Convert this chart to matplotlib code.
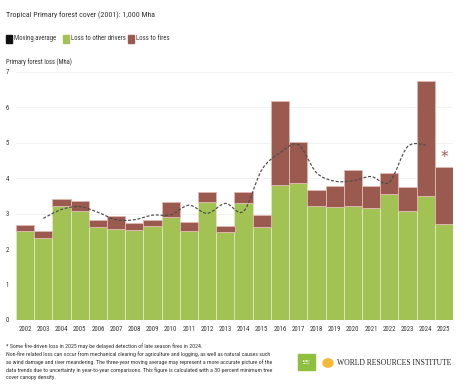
import numpy as np
import matplotlib
matplotlib.use("Agg")
import matplotlib.pyplot as plt
from matplotlib.path import Path
from matplotlib.patches import PathPatch, Rectangle, Circle

# ---------------------------------------------------------------------------
# Data (Mha)
# ---------------------------------------------------------------------------
years = list(range(2002, 2026))
other_drivers = [2.52, 2.31, 3.23, 3.08, 2.63, 2.58, 2.54, 2.64, 2.91, 2.52, 3.33, 2.48,
                 3.31, 2.63, 3.80, 3.87, 3.23, 3.20, 3.23, 3.15, 3.55, 3.07, 3.51, 2.70]
fires = [0.16, 0.19, 0.19, 0.27, 0.20, 0.35, 0.20, 0.17, 0.42, 0.25, 0.29, 0.17,
         0.30, 0.32, 2.37, 1.16, 0.43, 0.58, 1.00, 0.63, 0.59, 0.69, 3.25, 1.61]
ma_years = list(range(2003, 2025))
moving_avg = [2.87, 3.12, 3.20, 3.04, 2.83, 2.83, 2.96, 2.97, 3.24, 3.01, 3.29, 3.07,
              4.24, 4.72, 4.95, 4.16, 3.92, 3.93, 4.05, 3.89, 4.89, 4.94]

GREEN = "#a2c254"
BROWN = "#9a5a4f"
TXT = "#333333"
FONT = ["Roboto Condensed", "Liberation Sans Narrow", "Roboto", "DejaVu Sans"]
plt.rcParams["font.family"] = FONT

fig = plt.figure(figsize=(4.68, 3.9), dpi=100)
ax = fig.add_axes([16 / 468, 1 - 320 / 390, 437 / 468, 248 / 390])

x = np.arange(len(years))
ax.bar(x, other_drivers, width=1.0, color=GREEN, edgecolor="#dfe9c6", linewidth=0.6, zorder=2)
ax.bar(x, fires, bottom=other_drivers, width=1.0, color=BROWN, edgecolor="#e2b9b1",
       linewidth=0.6, zorder=2)

# smooth dashed moving average (Catmull-Rom drawn as cubic Bezier path)
mx = np.array([years.index(y) for y in ma_years], dtype=float)
my = np.array(moving_avg)
pts = np.column_stack([mx, my])
verts = [pts[0]]
codes = [Path.MOVETO]
for i in range(len(pts) - 1):
    p0 = pts[i - 1] if i > 0 else pts[i]
    p1, p2 = pts[i], pts[i + 1]
    p3 = pts[i + 2] if i + 2 < len(pts) else pts[i + 1]
    verts += [p1 + (p2 - p0) / 6, p2 - (p3 - p1) / 6, p2]
    codes += [Path.CURVE4] * 3
ax.add_patch(PathPatch(Path(verts, codes), fill=False, edgecolor="#4a4a4a", lw=0.85,
                       linestyle=(0, (2.5, 1.5)), zorder=3))

ax.text(x[-1], 4.6, "*", color=BROWN, fontsize=11, ha="center", va="center",
        family="DejaVu Sans")

ax.set_xlim(-0.5, len(years) - 0.5)
ax.set_ylim(0, 7)
ax.set_yticks(range(8))
ax.set_xticks(x)
ax.set_xticklabels([str(y) for y in years])
ax.tick_params(length=0, labelsize=4.9, colors=TXT)
ax.tick_params(axis="y", pad=5)
ax.tick_params(axis="x", pad=4)
ax.grid(axis="y", color="#f0f0f0", lw=0.6, zorder=0)
ax.set_axisbelow(True)
for s in ax.spines.values():
    s.set_visible(False)

# header
fig.text(6 / 468, 1 - 15 / 390, "Tropical Primary forest cover (2001): 1,000 Mha",
         fontsize=5.7, color=TXT, va="center")
legend_items = [(6, "#111111", "Moving average"), (63, GREEN, "Loss to other drivers"),
                (128, BROWN, "Loss to fires")]
for px, col, lab in legend_items:
    fig.patches.append(Rectangle((px / 468, 1 - 42.5 / 390), 6 / 468, 7 / 390,
                                 transform=fig.transFigure, color=col))
    fig.text((px + 8) / 468, 1 - 39 / 390, lab, fontsize=4.9, color=TXT, va="center")
fig.text(6 / 468, 1 - 62 / 390, "Primary forest loss (Mha)", fontsize=4.8, color=TXT,
         va="center")

# footnotes
notes = [
    "* Some fire-driven loss in 2025 may be delayed detection of late season fires in 2024.",
    "Non-fire related loss can occur from mechanical clearing for agriculture and logging, as well as natural causes such",
    "as wind damage and river meandering. The three-year moving average may represent a more accurate picture of the",
    "data trends due to uncertainty in year-to-year comparisons. This figure is calculated with a 30 percent minimum tree",
    "cover canopy density.",
]
for i, line in enumerate(notes):
    fig.text(6 / 468, 1 - (346 + 8 * i) / 390, line, fontsize=4.2, color=TXT, va="center")

# logos
fig.patches.append(Rectangle((298 / 468, 1 - 370 / 390), 17 / 468, 16 / 390,
                             transform=fig.transFigure, color="#8fbf3f"))
fig.text(306.5 / 468, 1 - 362 / 390, "GLOBAL\nFOREST\nWATCH", fontsize=1.7, color="white",
         ha="center", va="center", weight="bold", linespacing=1.3)
fig.patches.append(Circle((328 / 468, 1 - 363 / 390), 5 / 468, transform=fig.transFigure,
                          color="#f5b935"))
fig.text(337 / 468, 1 - 363 / 390, "WORLD RESOURCES INSTITUTE", fontsize=5.5,
         color="#222222", va="center", family=["Liberation Serif", "DejaVu Serif"])

fig.savefig("out.png", dpi=100, facecolor="white")
